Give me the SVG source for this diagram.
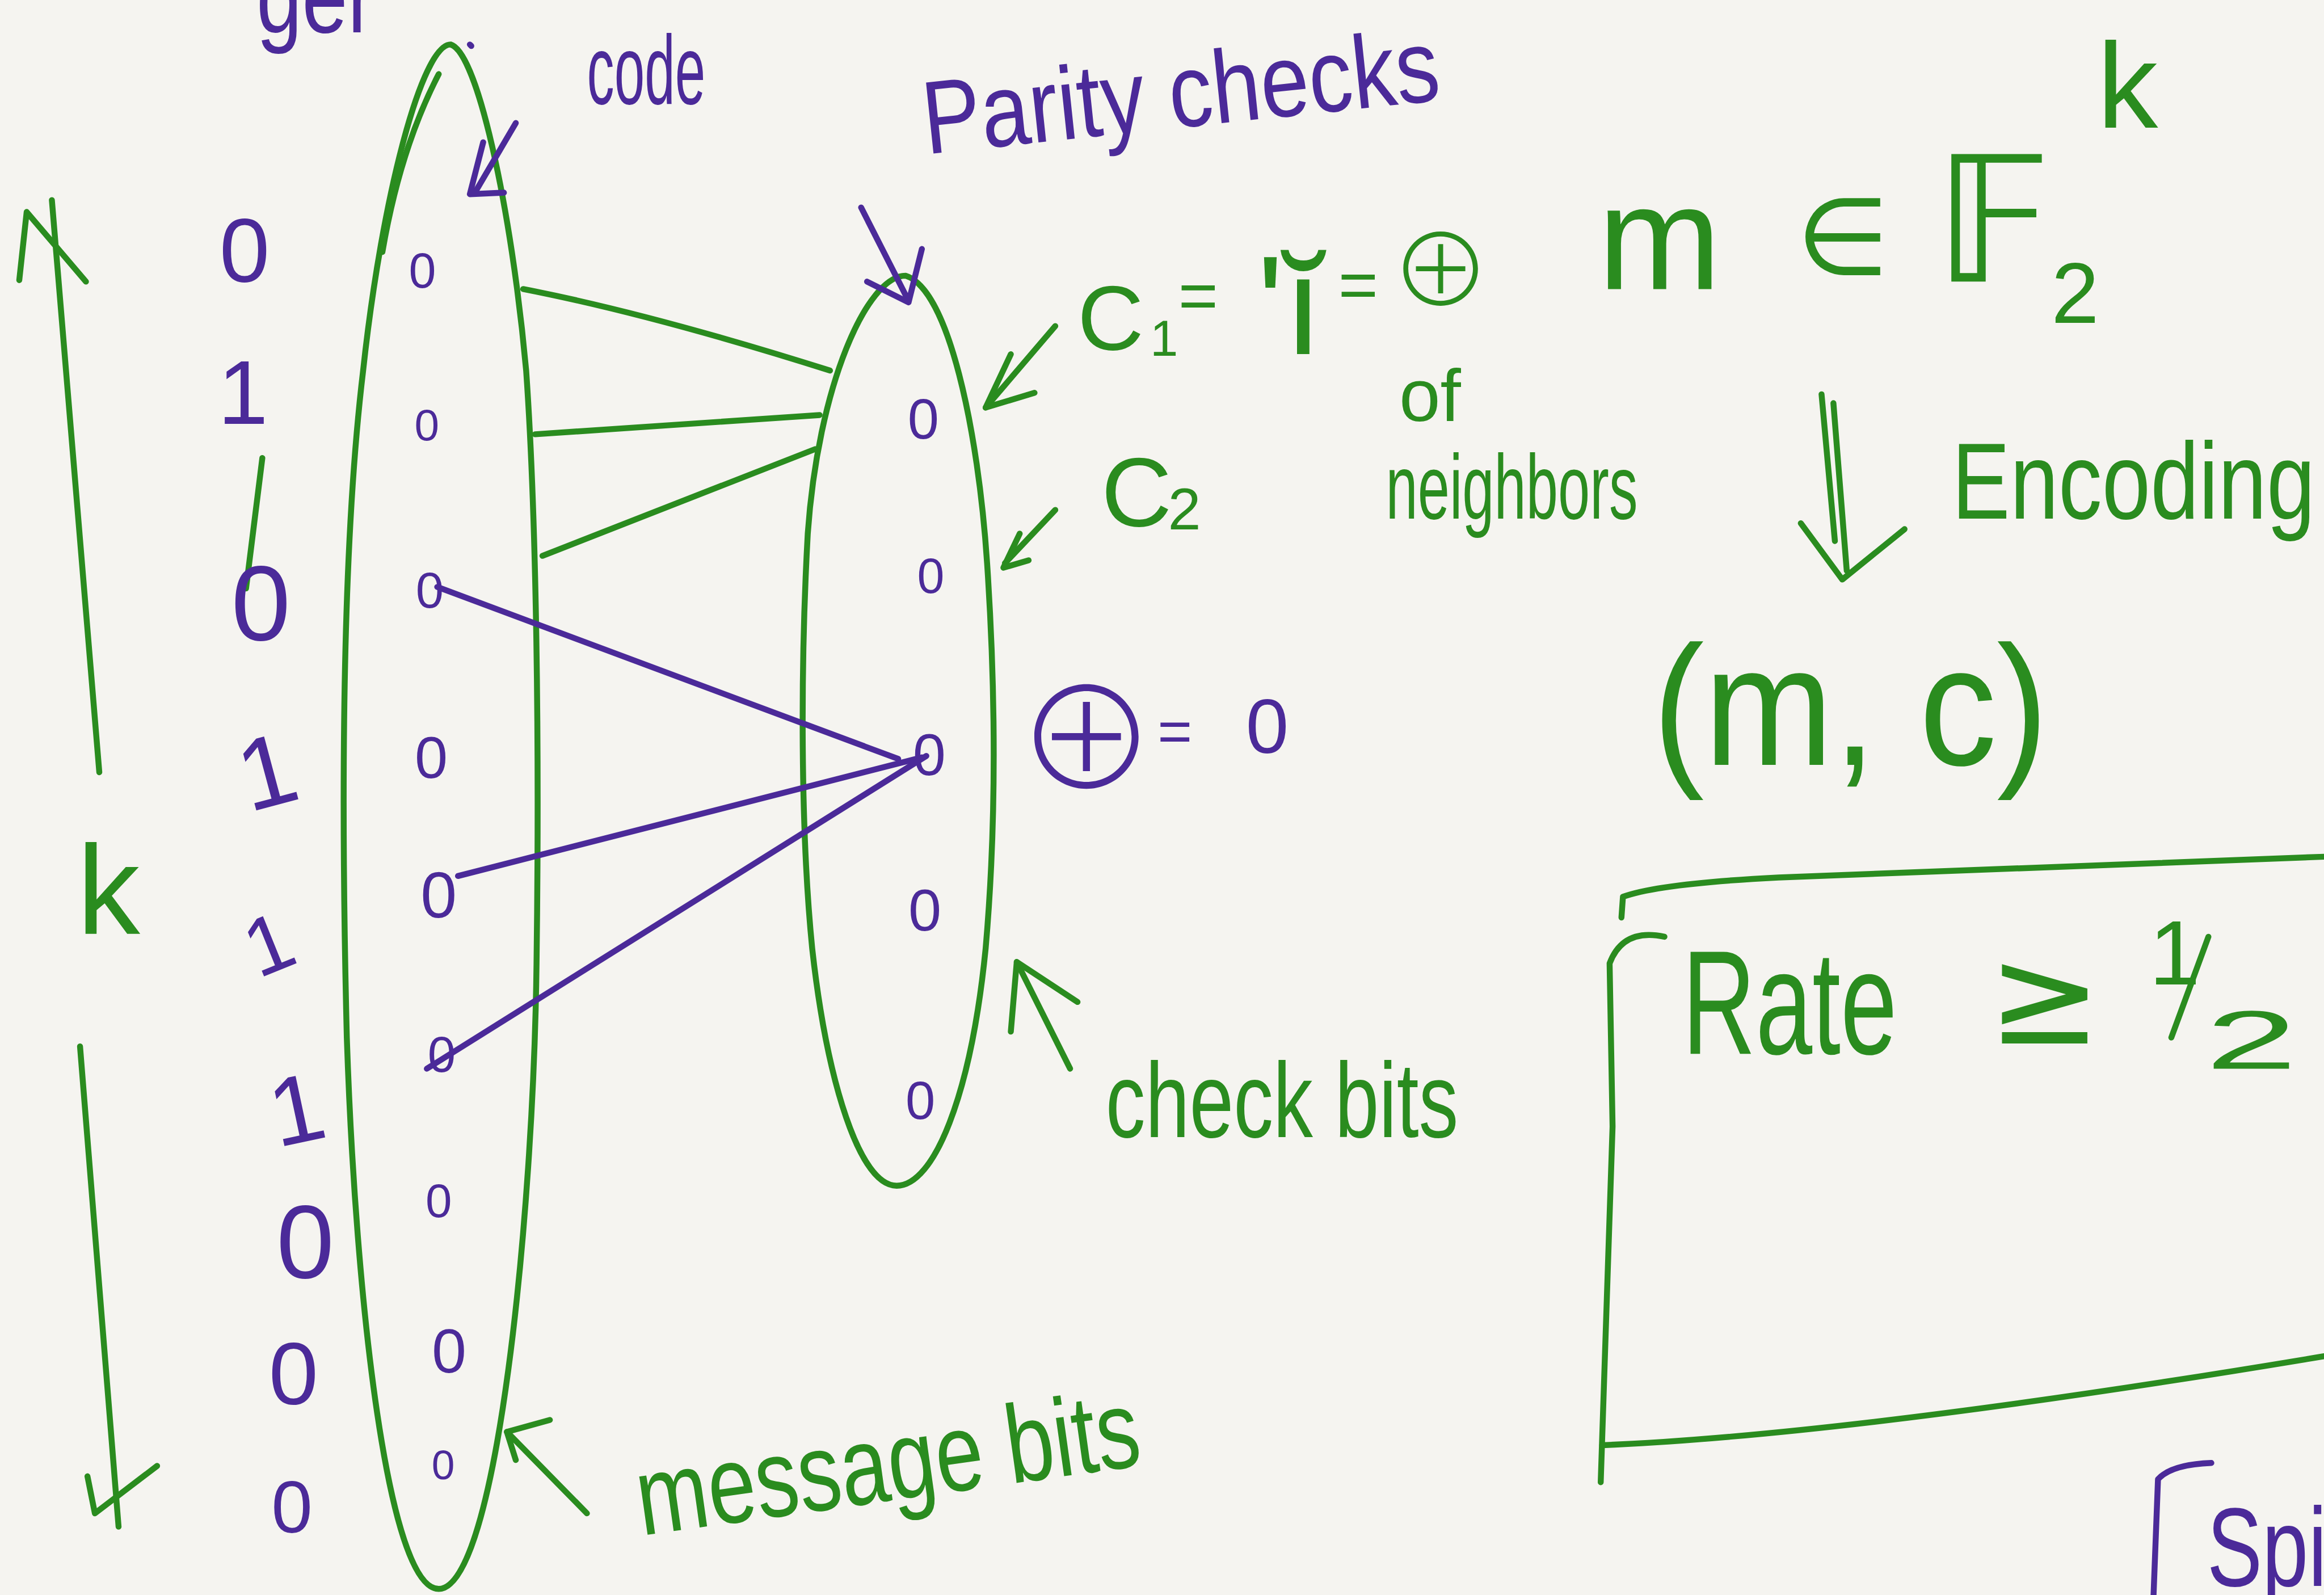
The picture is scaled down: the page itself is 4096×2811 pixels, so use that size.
<svg xmlns="http://www.w3.org/2000/svg" width="4096" height="2811" viewBox="0 0 4096 2811">
<style>
.g{fill:none;stroke:#2a8c1f;stroke-width:4;stroke-linecap:round;stroke-linejoin:round}
.p{fill:none;stroke:#4b2a99;stroke-width:4;stroke-linecap:round;stroke-linejoin:round}
.tg{fill:#2a8c1f;font-family:"Liberation Sans","DejaVu Sans",sans-serif}
.tp{fill:#4b2a99;font-family:"Liberation Sans","DejaVu Sans",sans-serif}
.m{font-family:"DejaVu Sans","Liberation Sans",sans-serif}
.x{font-family:"Noto Sans CJK JP","DejaVu Sans",sans-serif;font-weight:300}
.c{text-anchor:middle}
</style>
<rect width="4096" height="2811" fill="#f5f4f0"/>
<g transform="scale(2.61224)">
  <g id="title-fragment">
    <text class="tp" x="173" y="22" font-size="70" textLength="80" lengthAdjust="spacingAndGlyphs">ger</text>
  </g>
  <g id="k-arrow">
    <path class="g" d="M35,135 L67,521"/>
    <path class="g" d="M13,189 L18,143 L58,190"/>
    <text class="tg" x="52" y="630" font-size="85">k</text>
    <path class="g" d="M54,706 L80,1030"/>
    <path class="g" d="M59,996 L64,1021 L106,989"/>
  </g>
  <g id="message-column">
    <text class="tp c" x="165" y="190" font-size="61">0</text>
    <text class="tp c" x="164" y="286" font-size="61">1</text>
    <path class="g" d="M177,309 L166,397"/>
    <text class="tp c" x="176" y="432" font-size="72">0</text>
    <text class="tp c" x="180" y="544" font-size="68" transform="rotate(-15 180 520)">1</text>
    <text class="tp c" x="181" y="656" font-size="55" transform="rotate(-22 181 636)">1</text>
    <text class="tp c" x="200" y="771" font-size="65" transform="rotate(-12 200 748)">1</text>
    <text class="tp c" x="206" y="862" font-size="70">0</text>
    <text class="tp c" x="198" y="947" font-size="60">0</text>
    <text class="tp c" x="197" y="1034" font-size="50">0</text>
  </g>
  <g id="code-node">
    <path class="g" d="M304,30 C322,35 345,140 355,250 C362,350 364,500 362,650 C360,820 335,1072 296,1072 C262,1072 240,880 234,700 C229,500 233,350 245,250 C258,130 285,30 304,30 Z"/>
    <path class="g" d="M296,50 Q270,100 258,170"/>
    <path class="p" d="M317,30 L318,31"/>
    <text class="tp c" x="285" y="194" font-size="33">0</text>
    <text class="tp c" x="288" y="297" font-size="30">0</text>
    <text class="tp c" x="290" y="410" font-size="34">0</text>
    <text class="tp c" x="291" y="525" font-size="40">0</text>
    <text class="tp c" x="296" y="619" font-size="44">0</text>
    <text class="tp c" x="298" y="723" font-size="34">0</text>
    <text class="tp c" x="296" y="821" font-size="32">0</text>
    <text class="tp c" x="303" y="926" font-size="42">0</text>
    <text class="tp c" x="299" y="998" font-size="28">0</text>
  </g>
  <g id="check-node">
    <path class="g" d="M611,186 C640,195 660,290 666,380 C672,470 672,560 665,640 C655,740 630,800 605,800 C580,800 558,730 548,640 C540,560 540,450 545,360 C552,260 585,186 611,186 Z"/>
    <text class="tp c" x="623" y="296" font-size="38">0</text>
    <text class="tp c" x="628" y="400" font-size="33">0</text>
    <text class="tp c" x="627" y="523" font-size="40">0</text>
    <text class="tp c" x="624" y="628" font-size="40">0</text>
    <text class="tp c" x="621" y="755" font-size="36">0</text>
  </g>
  <g id="connectors">
    <path class="g" d="M353,195 Q440,212 560,250"/>
    <path class="g" d="M361,293 L553,280"/>
    <path class="g" d="M366,375 L550,303"/>
    <path class="p" d="M295,396 L606,512"/>
    <path class="p" d="M309,591 L622,511"/>
    <path class="p" d="M288,721 L625,510"/>
  </g>
  <g id="code-label">
    <text class="tp" x="396" y="70" font-size="66" textLength="80" lengthAdjust="spacingAndGlyphs">code</text>
    <path class="p" d="M348,83 L321,129"/>
    <path class="p" d="M326,96 L317,131 L340,130"/>
  </g>
  <g id="parity-label">
    <text class="tp" x="625" y="104" font-size="70" textLength="350" lengthAdjust="spacingAndGlyphs" transform="rotate(-6 625 104)">Parity checks</text>
    <path class="p" d="M581,140 L613,203"/>
    <path class="p" d="M585,190 L613,204 L622,168"/>
  </g>
  <g id="c1-label">
    <path class="g" d="M712,220 L665,275"/>
    <path class="g" d="M682,239 L665,275 L698,265"/>
    <text class="tg" font-size="62"><tspan x="727" y="236">C</tspan><tspan x="776" y="240" font-size="34">1</tspan><tspan x="795" y="215" font-size="46">=</tspan><tspan x="848" y="239" font-size="95">'ĭ</tspan><tspan x="903" y="208" font-size="46">=</tspan></text>
    <text class="tg x c" x="972" y="207" font-size="68">⊕</text>
    <text class="tg" x="944" y="284" font-size="50">of</text>
    <text class="tg" x="935" y="350" font-size="62" textLength="170" lengthAdjust="spacingAndGlyphs">neighbors</text>
  </g>
  <g id="c2-label">
    <path class="g" d="M712,344 L678,380"/>
    <path class="g" d="M688,360 L677,383 L694,378"/>
    <text class="tg" font-size="66"><tspan x="743" y="355">C</tspan><tspan x="788" y="357" font-size="40">2</tspan></text>
  </g>
  <g id="xor-zero">
    <text class="tp x c" x="733" y="533" font-size="95">⊕</text>
    <text class="tp" x="781" y="507" font-size="40">=</text>
    <text class="tp c" x="855" y="508" font-size="52">0</text>
  </g>
  <g id="check-bits-label">
    <path class="g" d="M722,721 L686,649"/>
    <path class="g" d="M682,696 L686,649 L727,676"/>
    <text class="tg" x="746" y="767" font-size="72" textLength="238" lengthAdjust="spacingAndGlyphs">check bits</text>
  </g>
  <g id="message-bits-label">
    <path class="g" d="M396,1021 L342,966"/>
    <path class="g" d="M348,985 L342,966 L371,958"/>
    <text class="tg" x="433" y="1036" font-size="75" textLength="342" lengthAdjust="spacingAndGlyphs" transform="rotate(-8 433 1036)">message bits</text>
  </g>
  <g id="message-space">
    <text class="tg" x="1078" y="195" font-size="100">m</text>
    <text class="tg m" x="1212" y="185" font-size="72">∈</text>
    <text class="tg m" x="1305" y="190" font-size="118">𝔽</text>
    <text class="tg" x="1384" y="218" font-size="58">2</text>
    <text class="tg" x="1415" y="86" font-size="82">k</text>
  </g>
  <g id="encoding-arrow">
    <path class="g" d="M1229,266 L1238,365"/>
    <path class="g" d="M1237,272 L1246,385"/>
    <path class="g" d="M1215,353 L1243,391 L1285,357"/>
    <text class="tg" x="1317" y="350" font-size="73" textLength="245" lengthAdjust="spacingAndGlyphs">Encoding</text>
  </g>
  <g id="codeword">
    <text class="tg" x="1115" y="516" font-size="115" textLength="267" lengthAdjust="spacingAndGlyphs">(m, c)</text>
  </g>
  <g id="rate-box">
    <path class="g" d="M1094,619 L1095,605 Q1120,596 1200,592 L1568,578"/>
    <path class="g" d="M1123,632 Q1095,626 1086,650 L1088,760 L1080,1000"/>
    <path class="g" d="M1081,975 Q1250,968 1568,915"/>
    <text class="tg" x="1135" y="711" font-size="100" textLength="145" lengthAdjust="spacingAndGlyphs">Rate</text>
    <text class="tg m" x="1341" y="704" font-size="92">≥</text>
    <text class="tg" x="1450" y="664" font-size="62">1</text>
    <path class="g" d="M1490,632 L1465,700"/>
    <text class="tg" x="1488" y="721" font-size="56" textLength="62" lengthAdjust="spacingAndGlyphs">2</text>
  </g>
  <g id="spie-fragment">
    <path class="p" d="M1492,987 Q1465,988 1456,998 L1453,1076"/>
    <text class="tp" x="1489" y="1070" font-size="75" textLength="112" lengthAdjust="spacingAndGlyphs">Spie</text>
  </g>
</g>
</svg>
